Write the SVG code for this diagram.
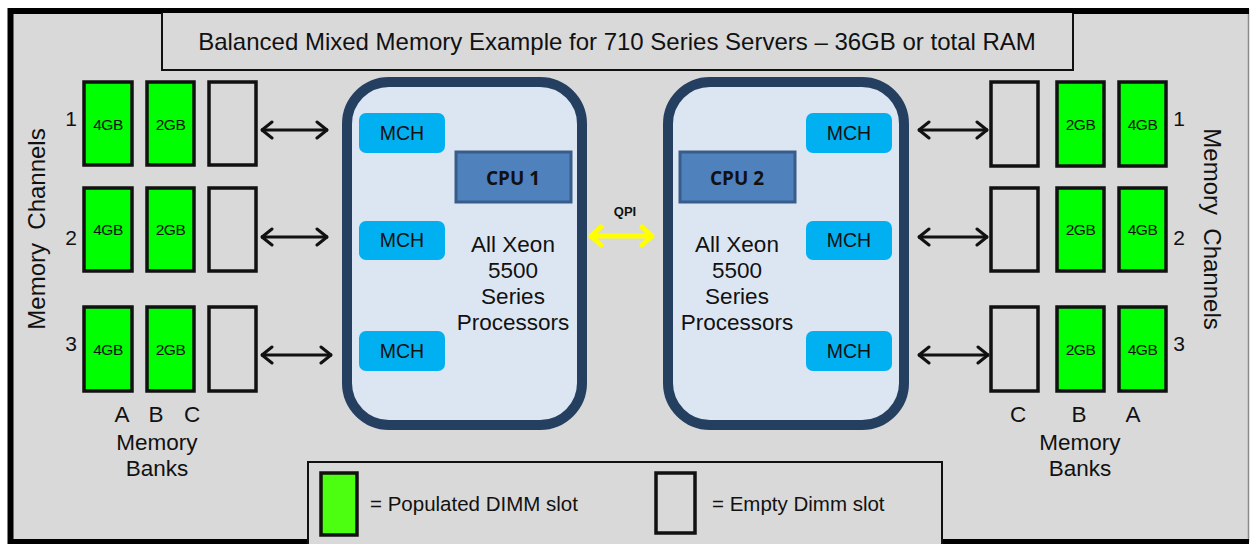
<svg xmlns="http://www.w3.org/2000/svg" width="1251" height="544" viewBox="0 0 1251 544">
<defs>
<style>
text{font-family:"Liberation Sans",Arial,sans-serif;fill:#111}
.dimm{fill:#00ff00;stroke:#111;stroke-width:3.5}
.empty{fill:#d9d9d9;stroke:#111;stroke-width:3.5}
.gb{font-size:15.5px;text-anchor:middle;letter-spacing:-0.5px}
.mch{fill:#00b0f0}
.mcht{font-size:19.5px;text-anchor:middle}
.cpu{fill:#dce6f2;stroke:#243f60;stroke-width:10}
.cpubox{fill:#4f81bd;stroke:#385d8a;stroke-width:3}
.cput{font-family:"Open Sans","Liberation Sans",sans-serif;font-weight:bold;font-size:19px;text-anchor:middle}
.big{font-size:22.5px;text-anchor:middle}
.num{font-size:21px;text-anchor:middle}
.arr{stroke:#111;stroke-width:3;fill:none;marker-start:url(#ah);marker-end:url(#ah)}
.qpi{stroke:#ffff00;stroke-width:5;fill:none;marker-start:url(#ay);marker-end:url(#ay)}
</style>
<marker id="ah" viewBox="0 0 14 20" refX="13" refY="10" markerWidth="14" markerHeight="20" markerUnits="userSpaceOnUse" orient="auto-start-reverse">
<polyline points="2,2 12,10 2,18" fill="none" stroke="#111" stroke-width="3" stroke-linecap="round" stroke-linejoin="round"/>
</marker>
<marker id="ay" viewBox="0 0 16 24" refX="15" refY="12" markerWidth="16" markerHeight="24" markerUnits="userSpaceOnUse" orient="auto-start-reverse">
<polyline points="3,3 13,12 3,21" fill="none" stroke="#ffff00" stroke-width="5" stroke-linecap="round" stroke-linejoin="round"/>
</marker>
</defs>
<rect x="0" y="0" width="1251" height="544" fill="#ffffff"/>
<g id="frame">
<rect x="10" y="10" width="1238.5" height="531" fill="#d9d9d9" stroke="#8a8a8a" stroke-width="1.5"/>
<line x1="10.5" y1="8" x2="10.5" y2="544" stroke="#000" stroke-width="6"/>
<line x1="8" y1="11" x2="1249" y2="11" stroke="#000" stroke-width="6"/>
<line x1="8" y1="541.5" x2="1249" y2="541.5" stroke="#000" stroke-width="5"/>
</g>
<g id="title">
<polyline points="162,13 162,70 1073,70 1073,13" fill="#d9d9d9" stroke="#111" stroke-width="2"/>
<text x="617" y="50" font-size="24" text-anchor="middle">Balanced Mixed Memory Example for 710 Series Servers – 36GB or total RAM</text>
</g>
<g id="left-channels-label">
<text transform="translate(45,229) rotate(-90)" font-size="24" text-anchor="middle" style="white-space:pre">Memory  Channels</text>
</g>
<g id="right-channels-label">
<text transform="translate(1204,229) rotate(90)" font-size="24" text-anchor="middle" style="white-space:pre">Memory  Channels</text>
</g>
<g id="left-dimms">
<text class="num" x="71" y="126">1</text>
<text class="num" x="71" y="245">2</text>
<text class="num" x="71" y="351">3</text>
<rect class="dimm" x="84" y="82" width="48" height="83"/><text class="gb" x="108" y="130">4GB</text>
<rect class="dimm" x="147" y="82" width="47" height="83"/><text class="gb" x="170.5" y="130">2GB</text>
<rect class="empty" x="209" y="82" width="47" height="83"/>
<rect class="dimm" x="84" y="188" width="48" height="83"/><text class="gb" x="108" y="235">4GB</text>
<rect class="dimm" x="147" y="188" width="47" height="83"/><text class="gb" x="170.5" y="235">2GB</text>
<rect class="empty" x="209" y="188" width="47" height="83"/>
<rect class="dimm" x="84" y="307" width="48" height="84"/><text class="gb" x="108" y="355">4GB</text>
<rect class="dimm" x="147" y="307" width="47" height="84"/><text class="gb" x="170.5" y="355">2GB</text>
<rect class="empty" x="209" y="307" width="47" height="84"/>
<text class="big" x="122" y="422">A</text>
<text class="big" x="156" y="422">B</text>
<text class="big" x="192" y="422">C</text>
<text class="big" x="157" y="450">Memory</text>
<text class="big" x="157" y="476">Banks</text>
</g>
<g id="right-dimms">
<text class="num" x="1179" y="126">1</text>
<text class="num" x="1179" y="245">2</text>
<text class="num" x="1179" y="351">3</text>
<rect class="empty" x="991" y="82" width="47" height="84"/>
<rect class="dimm" x="1057" y="82" width="47" height="84"/><text class="gb" x="1080.5" y="130">2GB</text>
<rect class="dimm" x="1119" y="82" width="47" height="84"/><text class="gb" x="1142.5" y="130">4GB</text>
<rect class="empty" x="991" y="188" width="47" height="83"/>
<rect class="dimm" x="1057" y="188" width="47" height="83"/><text class="gb" x="1080.5" y="235">2GB</text>
<rect class="dimm" x="1119" y="188" width="47" height="83"/><text class="gb" x="1142.5" y="235">4GB</text>
<rect class="empty" x="991" y="307" width="47" height="84"/>
<rect class="dimm" x="1057" y="307" width="47" height="84"/><text class="gb" x="1080.5" y="355">2GB</text>
<rect class="dimm" x="1119" y="307" width="47" height="84"/><text class="gb" x="1142.5" y="355">4GB</text>
<text class="big" x="1018" y="422">C</text>
<text class="big" x="1079" y="422">B</text>
<text class="big" x="1133" y="422">A</text>
<text class="big" x="1080" y="450">Memory</text>
<text class="big" x="1080" y="476">Banks</text>
</g>
<g id="cpu1">
<rect class="cpu" x="347" y="82" width="235" height="343" rx="42"/>
<rect class="mch" x="359" y="113" width="86" height="40" rx="7"/><text class="mcht" x="402" y="140">MCH</text>
<rect class="mch" x="359" y="221" width="86" height="39" rx="7"/><text class="mcht" x="402" y="247">MCH</text>
<rect class="mch" x="359" y="331" width="86" height="40" rx="7"/><text class="mcht" x="402" y="358">MCH</text>
<rect class="cpubox" x="456" y="152" width="115" height="50"/>
<text class="cput" x="513" y="185">CPU 1</text>
<text class="big" x="513" y="252">All Xeon</text>
<text class="big" x="513" y="278">5500</text>
<text class="big" x="513" y="304">Series</text>
<text class="big" x="513" y="330">Processors</text>
</g>
<g id="cpu2">
<rect class="cpu" x="668" y="82" width="236" height="343" rx="42"/>
<rect class="mch" x="806" y="113" width="86" height="40" rx="7"/><text class="mcht" x="849" y="140">MCH</text>
<rect class="mch" x="806" y="221" width="86" height="39" rx="7"/><text class="mcht" x="849" y="247">MCH</text>
<rect class="mch" x="806" y="331" width="86" height="40" rx="7"/><text class="mcht" x="849" y="358">MCH</text>
<rect class="cpubox" x="680" y="152" width="115" height="50"/>
<text class="cput" x="737" y="185">CPU 2</text>
<text class="big" x="737" y="252">All Xeon</text>
<text class="big" x="737" y="278">5500</text>
<text class="big" x="737" y="304">Series</text>
<text class="big" x="737" y="330">Processors</text>
</g>
<g id="connectors">
<line class="arr" x1="261" y1="130" x2="328" y2="130"/>
<line class="arr" x1="261" y1="237" x2="328" y2="237"/>
<line class="arr" x1="261" y1="355" x2="332" y2="355"/>
<line class="arr" x1="918" y1="130" x2="988" y2="130"/>
<line class="arr" x1="918" y1="237" x2="988" y2="237"/>
<line class="arr" x1="918" y1="355" x2="989" y2="355"/>
<line class="qpi" x1="589" y1="236" x2="654" y2="236"/>
<text x="625" y="216" font-family="'Open Sans','Liberation Sans',sans-serif" font-weight="bold" font-size="13" text-anchor="middle">QPI</text>
</g>
<g id="legend">
<polyline points="308,544 308,462 942,462 942,544" fill="#d9d9d9" stroke="#111" stroke-width="2"/>
<rect x="321" y="473" width="36" height="62" fill="#4cff10" stroke="#111" stroke-width="3.5"/>
<text x="370" y="511" font-size="20.5">= Populated DIMM slot</text>
<rect x="656" y="473" width="39" height="60" fill="#d9d9d9" stroke="#111" stroke-width="3.5"/>
<text x="712" y="511" font-size="20.5">= Empty Dimm slot</text>
</g>
</svg>
